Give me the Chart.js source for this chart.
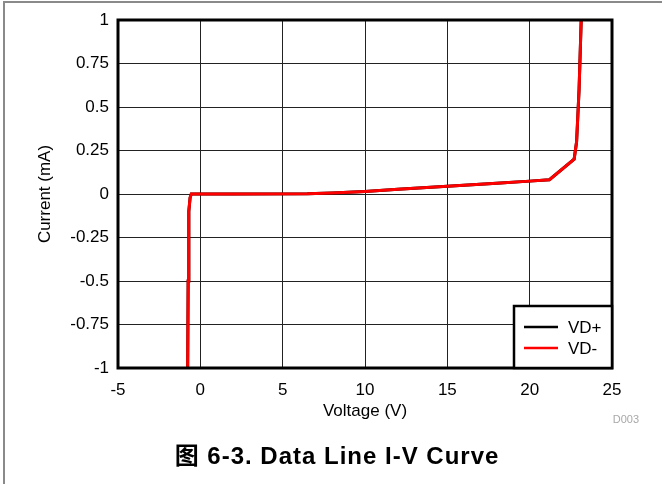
<!DOCTYPE html>
<html>
<head>
<meta charset="utf-8">
<script src="https://cdn.jsdelivr.net/npm/chart.js@4.4.1/dist/chart.umd.min.js"></script>
<style>
  body { margin: 0; background: #fff; }
  #wrap { position: relative; width: 662px; height: 484px; overflow: hidden; }
  #frame { position: absolute; left: 3px; top: 1px; width: 700px; height: 600px;
           border-top: 2px solid #8a8a8a; border-left: 2px solid #8a8a8a; }
  #caption { position: absolute; left: 0; width: 674px; top: 436px; text-align: center;
             letter-spacing: 1px;
             font: bold 24px Arial, "Liberation Sans", "Noto Sans CJK SC", sans-serif; color: #000; }
  #code { position: absolute; right: 23px; top: 413px;
          font: 11px Arial, "Liberation Sans", sans-serif; color: #a8a8a8; }
  canvas { position: absolute; left: 0; top: 0; }
</style>
</head>
<body>
<div id="wrap">
  <div id="frame"></div>
  <canvas id="myChart" width="662" height="484"></canvas>
  <div id="code">D003</div>
  <div id="caption">图 6-3. Data Line I-V Curve</div>
</div>
<script>
// values
var voltage = [-0.77, -0.74, -0.70, -0.62, -0.55, 2, 6.5, 8, 10, 12, 15, 18, 20, 21.2, 22.7, 22.85, 23.0, 23.13];
var vdPlus  = [-1, -0.5, -0.1, -0.02, 0, 0, 0.001, 0.006, 0.015, 0.027, 0.045, 0.062, 0.074, 0.082, 0.2, 0.3, 0.6, 1];
var vdMinus = [-1, -0.5, -0.1, -0.02, 0, 0, 0.001, 0.006, 0.015, 0.027, 0.045, 0.062, 0.074, 0.082, 0.2, 0.3, 0.6, 1];
var seriesNames = ['VD+', 'VD-'];
var xTicks = [-5, 0, 5, 10, 15, 20, 25];
var yTicks = [-1, -0.75, -0.5, -0.25, 0, 0.25, 0.5, 0.75, 1];

function toPoints(xs, ys) {
    return xs.map(function (x, i) { return { x: x, y: ys[i] }; });
}

Chart.defaults.font.family = 'Arial, "Liberation Sans", sans-serif';
Chart.defaults.font.size = 17;
Chart.defaults.color = '#000';

// thick frame round the plot area
var framePlugin = {
    id: 'frame',
    afterDatasetsDraw: function (chart) {
        var a = chart.chartArea, ctx = chart.ctx;
        ctx.save();
        ctx.strokeStyle = '#000';
        ctx.lineWidth = 3;
        ctx.strokeRect(a.left, a.top, a.right - a.left, a.bottom - a.top);
        ctx.restore();
    }
};

// boxed legend in the lower right corner of the plot
var legendPlugin = {
    id: 'boxLegend',
    afterDraw: function (chart) {
        var a = chart.chartArea, ctx = chart.ctx;
        var w = 98, h = 62;
        var x0 = a.right - w, y0 = a.bottom - h;
        ctx.save();
        ctx.fillStyle = '#fff';
        ctx.fillRect(x0, y0, w, h);
        ctx.strokeStyle = '#000';
        ctx.lineWidth = 2.5;
        ctx.strokeRect(x0, y0, w, h);
        chart.data.datasets.forEach(function (ds, i) {
            var y = y0 + 21 + i * 21;
            ctx.strokeStyle = ds.borderColor;
            ctx.lineWidth = 2.5;
            ctx.beginPath();
            ctx.moveTo(x0 + 10, y);
            ctx.lineTo(x0 + 44, y);
            ctx.stroke();
            ctx.fillStyle = '#000';
            ctx.font = '17px Arial, "Liberation Sans", sans-serif';
            ctx.textBaseline = 'middle';
            ctx.fillText(ds.label, x0 + 54, y + 1);
        });
        ctx.restore();
    }
};

var ctx = document.getElementById('myChart').getContext('2d');
var chart = new Chart(ctx, {
    type: 'scatter',
    data: {
        datasets: [{
            label: seriesNames[0],
            data: toPoints(voltage, vdPlus),
            borderColor: '#000',
            borderWidth: 3,
            showLine: true,
            pointRadius: 0,
            order: 1
        }, {
            label: seriesNames[1],
            data: toPoints(voltage, vdMinus),
            borderColor: '#ff0000',
            borderWidth: 3,
            showLine: true,
            pointRadius: 0,
            order: 0
        }]
    },
    options: {
        responsive: false,
        animation: false,
        layout: { padding: { left: 31, top: 20, right: 50, bottom: 58 } },
        plugins: {
            legend: { display: false },
            tooltip: { enabled: false }
        },
        scales: {
            x: {
                type: 'linear',
                min: -5,
                max: 25,
                afterBuildTicks: function (scale) {
                    scale.ticks = xTicks.map(function (v) { return { value: v }; });
                },
                afterFit: function (scale) { scale.height = 58; },
                ticks: {
                    padding: 12,
                    callback: function (v) { return String(v); }
                },
                grid: { color: '#222', lineWidth: 1, drawTicks: false },
                border: { display: false },
                title: { display: true, text: 'Voltage (V)', padding: { top: 4, bottom: 4 } }
            },
            y: {
                type: 'linear',
                min: -1,
                max: 1,
                afterBuildTicks: function (scale) {
                    scale.ticks = yTicks.map(function (v) { return { value: v }; });
                },
                afterFit: function (scale) { scale.width = 87; },
                ticks: {
                    padding: 9,
                    callback: function (v) { return String(v); }
                },
                grid: { color: '#222', lineWidth: 1, drawTicks: false },
                border: { display: false },
                title: { display: true, text: 'Current (mA)', padding: { top: 4, bottom: 4 } }
            }
        }
    },
    plugins: [framePlugin, legendPlugin]
});
</script>
</body>
</html>
